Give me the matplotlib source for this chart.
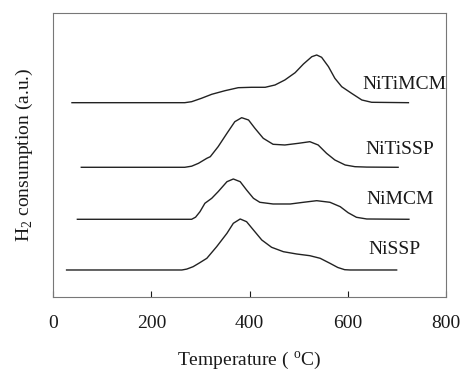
# H2-TPR profiles
import matplotlib.pyplot as plt
import numpy as np

plt.rcParams['font.family'] = ['Liberation Serif', 'DejaVu Serif']
plt.rcParams['mathtext.fontset'] = 'custom'
plt.rcParams['mathtext.rm'] = 'Liberation Serif'

# temperature (C) and signal (a.u.)
t_nitimcm = [38, 268, 282, 302, 323, 350, 377, 404, 432, 452, 472, 493, 510, 527, 537,
             547, 561, 574, 588, 608, 629, 649, 724]
y_nitimcm = [194, 194, 195, 198.4, 202.4, 206, 209, 209.4, 209.4, 211.7, 216.7, 224, 232.7, 240, 241.7,
             239.4, 230, 218.4, 210, 203.4, 196.7, 194.4, 194]

t_nitissp = [57, 268, 282, 296, 313, 320, 336, 354, 370, 384, 398, 411, 428, 448, 472,
             500, 523, 540, 557, 574, 595, 615, 639, 703]
y_nitissp = [129.4, 129.4, 130.5, 133.4, 138.4, 140, 150, 163.4, 175, 179, 176.7, 168.4, 158.4, 152.4, 151.7,
             153.4, 155, 151.7, 143.4, 136.7, 131.7, 130, 129.6, 129.4]

t_nimcm = [49, 282, 290, 299, 309, 323, 336, 354, 367, 381, 394, 408, 421, 448, 483,
           510, 537, 564, 585, 601, 618, 639, 725]
y_nimcm = [77.4, 77.4, 79.5, 85, 93.4, 98.4, 105, 115, 117.7, 115, 106.7, 98.4, 94.4, 92.7, 92.7,
           94.4, 96, 94.4, 90, 84, 79.4, 77.7, 77.4]

t_nissp = [27, 262, 272, 285, 298, 313, 333, 354, 367, 381, 394, 408, 425, 445, 469,
           496, 523, 544, 564, 580, 594, 605, 700]
y_nissp = [26.7, 26.7, 27.6, 30, 33.8, 38.4, 50, 63.4, 73.4, 77.7, 75, 66.7, 56.7, 49.4, 45,
           42.7, 41, 38.4, 33.4, 29.2, 27, 26.7, 26.7]

labels = ["NiTiMCM", "NiTiSSP", "NiMCM", "NiSSP"]
label_x = [630, 636, 639, 642]
label_y = [211.7, 146.7, 96.7, 46.7]

fig = plt.figure(figsize=(4.61, 3.71), dpi=100)
ax = fig.add_axes([0.1157, 0.2003, 0.8511, 0.7655])

for t, y in [(t_nitimcm, y_nitimcm), (t_nitissp, y_nitissp),
             (t_nimcm, y_nimcm), (t_nissp, y_nissp)]:
    ax.plot(t, y, color='#222222', lw=1.0, solid_joinstyle='round')

for lab, lx, ly in zip(labels, label_x, label_y):
    ax.text(lx, ly, lab, fontsize=14, va='center', ha='left', color='#1a1a1a')

ax.set_xlim(0, 800)
ax.set_ylim(0, 284)
ax.set_xticks(np.arange(0, 801, 200))
ax.set_yticks([])
ax.tick_params(axis='x', direction='in', length=4, labelsize=14, pad=13, colors='#1a1a1a')
for s in ax.spines.values():
    s.set_color('#777777')
    s.set_linewidth(0.8)

ax.set_xlabel(r"Temperature ( $^{\rm o}$C)", fontsize=14, labelpad=13, color='#1a1a1a')
ax.set_ylabel(r"H$_2$ consumption (a.u.)", fontsize=14, labelpad=13, color='#1a1a1a')

fig.savefig("out.png", dpi=100)
